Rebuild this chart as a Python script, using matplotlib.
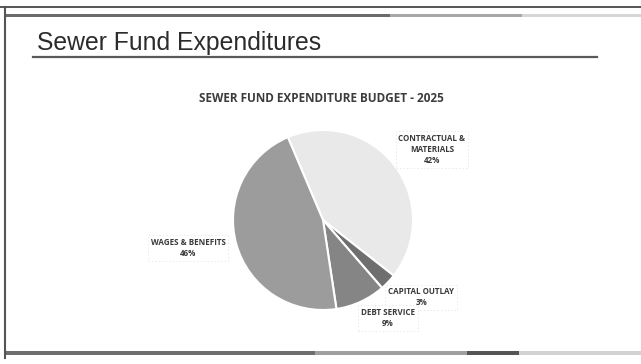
import matplotlib.pyplot as plt
from matplotlib.patches import Rectangle

# Sewer fund 2025 expenditure budget (percent of total)
categories = ["CONTRACTUAL &\nMATERIALS", "CAPITAL OUTLAY", "DEBT SERVICE", "WAGES & BENEFITS"]
shares = [42, 3, 9, 46]
colors = ["#e9e9e9", "#6f6f6f", "#858585", "#9c9c9c"]
label_pos = [(1.21, 0.78), (1.09, -0.86), (0.72, -1.09), (-1.50, -0.31)]

slide_title = "Sewer Fund Expenditures"
chart_title = "SEWER FUND EXPENDITURE BUDGET - 2025"

W, H = 641, 364
fig = plt.figure(figsize=(W / 100, H / 100), dpi=100)
fig.patch.set_facecolor("white")

# ---- slide frame (pixel coordinates, y downwards) ----
bg = fig.add_axes([0, 0, 1, 1])
bg.set_xlim(0, W)
bg.set_ylim(H, 0)
bg.axis("off")

bg.plot([0, W], [7, 7], color="#3a3a3a", lw=1.2)
bg.plot([5, 5], [7, 358], color="#555555", lw=1.5)
# top band
bg.add_patch(Rectangle((5, 13.5), 385, 3, color="#6a6a6a", lw=0))
bg.add_patch(Rectangle((390, 13.5), 132, 3, color="#a8a8a8", lw=0))
bg.add_patch(Rectangle((522, 13.5), W - 522, 3, color="#d6d6d6", lw=0))
# bottom band
bg.add_patch(Rectangle((5, 351), 310, 4, color="#6e6e6e", lw=0))
bg.add_patch(Rectangle((315, 351), 152, 4, color="#a0a0a0", lw=0))
bg.add_patch(Rectangle((467, 351), 52, 4, color="#555555", lw=0))
bg.add_patch(Rectangle((519, 351), W - 519, 4, color="#d2d2d2", lw=0))

bg.text(37, 50, slide_title, fontsize=17.8, family="Liberation Sans",
        color="#2b2b2b", va="baseline", ha="left")
bg.plot([33, 597], [57, 57], color="#5a5a5a", lw=1.6)

bg.text(321, 98, chart_title, fontsize=8.5, family="Open Sans",
        fontweight="bold", color="#3c3c3c", ha="center", va="center")

# ---- pie ----
cx, cy, r = 323, 220, 90
ax = fig.add_axes([(cx - r) / W, (H - cy - r) / H, 2 * r / W, 2 * r / H])
ax.pie(shares, colors=colors, startangle=113, counterclock=False, radius=1,
       wedgeprops=dict(edgecolor="white", linewidth=1.5))
ax.set_xlim(-1, 1)
ax.set_ylim(-1, 1)
ax.set_aspect("auto")

for name, val, (lx, ly) in zip(categories, shares, label_pos):
    ax.text(lx, ly, f"{name}\n{val}%", fontsize=5.8, family="Open Sans",
            fontweight="bold", color="#3a3a3a", ha="center", va="center",
            linespacing=1.3, clip_on=False,
            bbox=dict(boxstyle="square,pad=0.35", fc="white",
                      ec="#e0e0e0", lw=0.5, ls=(0, (2, 3))))

fig.savefig("out.png", dpi=100)
